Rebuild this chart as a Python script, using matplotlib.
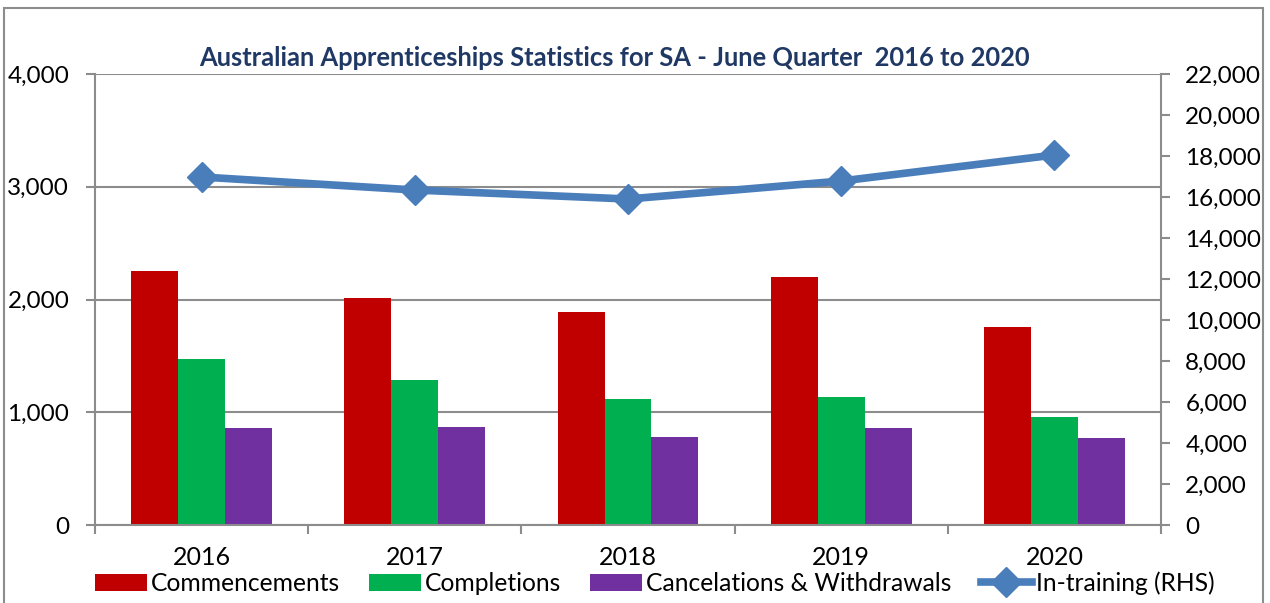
import matplotlib.pyplot as plt
from matplotlib.patches import Rectangle
from matplotlib.ticker import FuncFormatter, MultipleLocator
import numpy as np

plt.rcParams['font.family'] = ['Lato', 'DejaVu Sans']

# dados
anos = ['2016', '2017', '2018', '2019', '2020']
commencements = [2253, 2013, 1889, 2200, 1756]
completions = [1472, 1286, 1117, 1135, 958]
cancelations = [860, 869, 780, 860, 772]
in_training = [16976, 16341, 15902, 16780, 18049]

fig = plt.figure(figsize=(12.7, 6.03), dpi=100)
ax = fig.add_axes([95 / 1270, 1 - 525 / 603, (1161 - 95) / 1270, (525 - 74) / 603])
ax2 = ax.twinx()

x = np.arange(len(anos))
w = 0.22
b1 = ax.bar(x - w, commencements, w, color='#C00000', label='Commencements', zorder=2)
b2 = ax.bar(x, completions, w, color='#00B050', label='Completions', zorder=2)
b3 = ax.bar(x + w, cancelations, w, color='#7030A0', label='Cancelations & Withdrawals', zorder=2)
l1, = ax2.plot(x, in_training, color='#4A7EBB', lw=5.5, marker='D', ms=15,
               label='In-training (RHS)', zorder=3)

ax.set_xlim(-0.5, 4.5)
ax.set_ylim(0, 4000)
ax2.set_ylim(0, 22000)
ax.yaxis.set_major_locator(MultipleLocator(1000))
ax2.yaxis.set_major_locator(MultipleLocator(2000))
fmt = FuncFormatter(lambda v, p: f'{int(v):,}')
ax.yaxis.set_major_formatter(fmt)
ax2.yaxis.set_major_formatter(fmt)

ax.grid(axis='y', color='#8C8C8C', lw=1.5, zorder=0)
ax.set_axisbelow(True)

for a in (ax, ax2):
    for s in a.spines.values():
        s.set_visible(False)
ax.spines['left'].set_visible(True)
ax.spines['bottom'].set_visible(True)
ax2.spines['right'].set_visible(True)
for s in (ax.spines['left'], ax.spines['bottom'], ax2.spines['right']):
    s.set_color('#8C8C8C')
    s.set_linewidth(1.5)

ax.set_xticks(np.arange(-0.5, 5, 1))
ax.set_xticklabels([])
ax.set_xticks(x, minor=True)
ax.set_xticklabels(anos, minor=True, fontsize=18)
ax.tick_params(axis='x', which='major', length=6.5, width=1.5, color='#8C8C8C')
ax.tick_params(axis='x', which='minor', length=0, pad=15)
ax.tick_params(axis='y', length=6.5, width=1.5, color='#8C8C8C', labelsize=17.5, pad=12)
ax2.tick_params(axis='y', length=6.5, width=1.5, color='#8C8C8C', labelsize=17.5, pad=11)

fig.text(614 / 1270, 1 - 58 / 603, 'Australian Apprenticeships Statistics for SA - June Quarter  2016 to 2020',
         ha='center', va='center', fontsize=18.4, fontweight='bold', color='#1F3864')

fig.legend(handles=[b1, b2, b3, l1], loc='center', bbox_to_anchor=(655 / 1270, 1 - 583 / 603),
           ncol=4, frameon=False, fontsize=17.7, handlelength=2.1, handletextpad=0.15,
           columnspacing=1.2, borderaxespad=0)

# moldura externa
fig.patches.append(Rectangle((4 / 1270, -0.1), (1263 - 4) / 1270, 1.1 - 8 / 603,
                             transform=fig.transFigure, fill=False,
                             edgecolor='#8C8C8C', lw=1.5))

plt.savefig('out.png', dpi=100)
